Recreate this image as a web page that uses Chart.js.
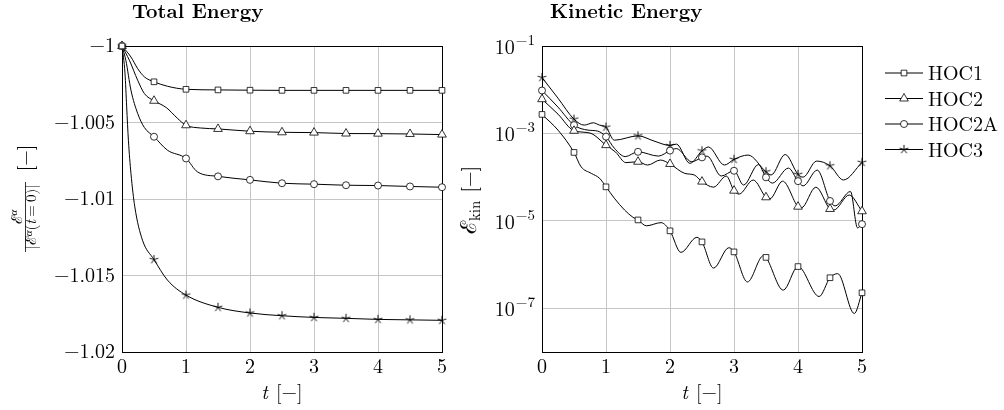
<!DOCTYPE html>
<html>
<head>
<meta charset="utf-8">
<script src="https://cdn.jsdelivr.net/npm/chart.js@4.4.1/dist/chart.umd.min.js"></script>
<style>
  html, body { margin: 0; padding: 0; background: #fff; }
  body { width: 1004px; height: 410px; position: relative; overflow: hidden; }
  canvas { position: absolute; top: 0; }
  #totalChart { left: 0; }
  #kinChart { left: 450px; }
</style>
</head>
<body>
<canvas id="totalChart" width="450" height="410"></canvas>
<canvas id="kinChart" width="554" height="410"></canvas>
<script>
// series
const seriesNames = ['HOC1', 'HOC2', 'HOC2A', 'HOC3'];
const timeTicks = [0, 1, 2, 3, 4, 5];
const energyTicks = [-1.02, -1.015, -1.01, -1.005, -1];
const kinTicks = [1e-7, 1e-5, 1e-3, 1e-1];

// normalised total energy
const hoc1TotalT = [0, 0.14, 0.245, 0.35, 0.5, 0.71, 1, 1.5, 2, 2.5, 3, 3.5, 4, 4.5, 5];
const hoc1Total = [-1, -1.00072, -1.00148, -1.00202, -1.00234, -1.00263, -1.00283, -1.00287, -1.00289, -1.0029, -1.0029, -1.0029, -1.0029, -1.0029, -1.0029];
const hoc2TotalT = [0, 0.115, 0.245, 0.35, 0.5, 0.69, 0.87, 1, 1.23, 1.5, 2, 2.5, 3, 3.5, 4, 4.5, 5];
const hoc2Total = [-1, -1.00093, -1.00224, -1.00311, -1.00358, -1.00402, -1.00474, -1.00518, -1.00536, -1.00542, -1.00557, -1.00564, -1.00566, -1.00572, -1.00573, -1.00575, -1.00579];
const hoc2aTotalT = [0, 0.06, 0.14, 0.245, 0.35, 0.5, 0.71, 1, 1.18, 1.5, 2, 2.5, 3, 3.5, 4, 4.5, 5];
const hoc2aTotal = [-1, -1.00093, -1.00289, -1.00441, -1.00533, -1.00593, -1.00681, -1.00735, -1.00823, -1.00852, -1.00875, -1.00897, -1.00903, -1.0091, -1.00912, -1.00918, -1.00923];
const hoc3TotalT = [0, 0.047, 0.073, 0.1, 0.14, 0.2, 0.32, 0.5, 0.71, 1, 1.5, 2, 2.5, 3, 3.5, 4, 4.5, 5];
const hoc3Total = [-1, -1.0018, -1.00398, -1.00616, -1.00833, -1.01051, -1.01269, -1.01396, -1.0153, -1.01628, -1.01708, -1.01745, -1.01763, -1.01774, -1.0178, -1.01787, -1.0179, -1.01793];

// kinetic energy
const hoc1KinT = [0, 0.25, 0.5, 0.61, 0.77, 0.9, 1, 1.13, 1.29, 1.42, 1.5, 1.63, 1.86, 2, 2.17, 2.42, 2.5, 2.68, 2.92, 3, 3.21, 3.46, 3.5, 3.77, 4, 4.33, 4.5, 4.62, 4.88, 5];
const hoc1Kin = [2.72e-3, 1.19e-3, 3.68e-4, 1.73e-4, 1.22e-4, 9.4e-5, 6.0e-5, 3.3e-5, 1.77e-5, 1.21e-5, 1.05e-5, 7.7e-6, 9.1e-6, 5.9e-6, 1.9e-6, 4.2e-6, 3.3e-6, 8.3e-7, 2.43e-6, 1.95e-6, 4.0e-7, 1.6e-6, 1.46e-6, 2.6e-7, 9.0e-7, 1.86e-7, 5.0e-7, 6.2e-7, 7.6e-8, 2.26e-7];
const hoc2KinT = [0, 0.25, 0.5, 0.75, 1, 1.15, 1.31, 1.5, 1.65, 1.85, 2, 2.23, 2.38, 2.5, 2.68, 2.88, 3, 3.08, 3.3, 3.5, 3.56, 3.76, 4, 4.05, 4.28, 4.5, 4.56, 4.8, 5];
const hoc2Kin = [6.07e-3, 2.76e-3, 1.15e-3, 1.02e-3, 5.4e-4, 3.74e-4, 2.15e-4, 2.25e-4, 1.89e-4, 2.46e-4, 2.0e-4, 1.22e-4, 1.12e-4, 7.9e-5, 5.9e-5, 1.06e-4, 4.9e-5, 4.1e-5, 8.6e-5, 3.46e-5, 3.2e-5, 8.1e-5, 2.11e-5, 1.97e-5, 5.9e-5, 1.87e-5, 1.77e-5, 3.9e-5, 1.66e-5];
const hoc2aKinT = [0, 0.25, 0.5, 0.72, 0.87, 1, 1.13, 1.3, 1.5, 1.82, 2, 2.1, 2.34, 2.5, 2.58, 2.8, 3, 3.15, 3.38, 3.5, 3.6, 3.85, 4, 4.08, 4.3, 4.5, 4.58, 4.82, 4.93, 5];
const hoc2aKin = [9.6e-3, 4.0e-3, 1.55e-3, 1.19e-3, 1.13e-3, 8.45e-4, 4.6e-4, 2.95e-4, 3.8e-4, 3.03e-4, 4.05e-4, 4.5e-4, 2.25e-4, 2.83e-4, 3.03e-4, 1.06e-4, 1.40e-4, 6.6e-5, 1.94e-4, 9.9e-5, 7.3e-5, 1.61e-4, 8.1e-5, 6.3e-5, 1.45e-4, 2.85e-5, 2.2e-5, 4.7e-5, 6.9e-6, 8.4e-6];
const hoc3KinT = [0, 0.25, 0.5, 0.66, 0.8, 0.9, 1, 1.13, 1.5, 1.75, 2, 2.1, 2.31, 2.5, 2.6, 2.85, 3, 3.22, 3.5, 3.58, 3.8, 4, 4.08, 4.29, 4.5, 4.71, 5];
const hoc3Kin = [1.9e-2, 6.4e-3, 2.12e-3, 1.55e-3, 1.75e-3, 1.55e-3, 1.39e-3, 7.0e-4, 8.8e-4, 6.7e-4, 5.3e-4, 5.7e-4, 2.07e-4, 4.0e-4, 4.9e-4, 1.89e-4, 2.55e-4, 3.2e-4, 1.33e-4, 1.12e-4, 3.3e-4, 1.16e-4, 1.0e-4, 2.33e-4, 1.82e-4, 8.6e-5, 2.18e-4];

const GRID = '#c6c6c6';
const FAMILY = '"Latin Modern Roman", "Liberation Serif", "DejaVu Serif", serif';
const F = (size, style = '') => `${style} ${size}px ${FAMILY}`.trim();

// five-armed asterisk mark
function makeStar(r) {
  const s = Math.ceil(r * 2 + 3);
  const c = document.createElement('canvas');
  c.width = s; c.height = s;
  const g = c.getContext('2d');
  g.strokeStyle = '#000';
  g.lineWidth = 0.9;
  g.beginPath();
  for (let k = 0; k < 5; k++) {
    const a = -Math.PI / 2 + k * 2 * Math.PI / 5;
    g.moveTo(s / 2, s / 2);
    g.lineTo(s / 2 + r * Math.cos(a), s / 2 + r * Math.sin(a));
  }
  g.stroke();
  return c;
}

const markStyles = ['rect', 'triangle', 'circle', makeStar(4.6)];
const markSizes = [4, 5, 3.5, 4.6];

// markers only every half time unit
function isMark(t) {
  return t !== undefined && Math.abs(t * 2 - Math.round(t * 2)) < 1e-6;
}

function series(ts, vs, i) {
  return {
    label: seriesNames[i],
    data: ts.map((t, k) => ({ x: t, y: vs[k] })),
    borderColor: '#000',
    borderWidth: 1,
    fill: false,
    cubicInterpolationMode: 'monotone',
    pointStyle: markStyles[i],
    pointRadius: ctx => isMark(ctx.raw && ctx.raw.x) ? markSizes[i] : 0,
    pointHoverRadius: 0,
    pointBorderColor: '#000',
    pointBackgroundColor: '#fff',
    pointBorderWidth: 0.8,
    clip: false
  };
}

// text made of runs with own font and baseline shift
function drawRuns(ctx, runs, x, y, align) {
  let w = 0;
  runs.forEach(r => { ctx.font = r.f; r.w = ctx.measureText(r.t).width; w += r.w + (r.gap || 0); });
  let cx = align === 'center' ? x - w / 2 : align === 'right' ? x - w : x;
  ctx.textAlign = 'left';
  ctx.textBaseline = 'alphabetic';
  runs.forEach(r => {
    ctx.font = r.f;
    ctx.fillText(r.t, cx, y + (r.dy || 0));
    cx += r.w + (r.gap || 0);
  });
}

function drawTitle(ctx, text, x) {
  ctx.fillStyle = '#000';
  drawRuns(ctx, [{ t: text, f: F(20, 'bold') }], x, 17.5, 'left');
}

// box round the plot area
const framePlugin = {
  id: 'frame',
  beforeDatasetsDraw(chart) {
    const { ctx, chartArea: a } = chart;
    ctx.save();
    ctx.strokeStyle = '#000';
    ctx.lineWidth = 1;
    ctx.strokeRect(Math.round(a.left) + 0.5, Math.round(a.top) + 0.5, Math.round(a.right - a.left), Math.round(a.bottom - a.top));
    ctx.restore();
  }
};

const axisX = () => ({
  type: 'linear',
  min: 0,
  max: 5,
  afterBuildTicks: s => { s.ticks = timeTicks.map(v => ({ value: v })); },
  ticks: { color: '#000', font: { family: FAMILY, size: 20 }, padding: 3, maxRotation: 0 },
  grid: { color: GRID, lineWidth: 1, drawTicks: false, tickLength: 0 },
  border: { display: false },
  afterFit: s => { s.height = 58; }
});

const baseOptions = {
  responsive: false,
  animation: false,
  devicePixelRatio: 1,
  events: [],
  plugins: { legend: { display: false }, tooltip: { enabled: false } }
};

// Total Energy
new Chart(document.getElementById('totalChart'), {
  type: 'line',
  data: {
    datasets: [
      series(hoc1TotalT, hoc1Total, 0),
      series(hoc2TotalT, hoc2Total, 1),
      series(hoc2aTotalT, hoc2aTotal, 2),
      series(hoc3TotalT, hoc3Total, 3)
    ]
  },
  options: {
    ...baseOptions,
    layout: { padding: { top: 46, right: 7, left: 0, bottom: 0 } },
    scales: {
      x: axisX(),
      y: {
        type: 'linear',
        min: -1.02,
        max: -1,
        afterBuildTicks: s => { s.ticks = energyTicks.map(v => ({ value: v })); },
        ticks: {
          color: '#000',
          font: { family: FAMILY, size: 20 },
          padding: 7,
          callback: v => String(Math.round(v * 1000) / 1000).replace('-', '\u2212')
        },
        grid: { color: GRID, lineWidth: 1, drawTicks: false, tickLength: 0 },
        border: { display: false },
        afterFit: s => { s.width = 122; }
      }
    }
  },
  plugins: [framePlugin, {
    id: 'totalText',
    afterDraw(chart) {
      const { ctx, chartArea: a } = chart;
      ctx.save();
      ctx.fillStyle = '#000';
      ctx.strokeStyle = '#000';
      drawTitle(ctx, 'Total Energy', a.left + 10);
      drawRuns(ctx, [{ t: 't', f: F(20, 'italic'), gap: 8 }, { t: '[\u2212]', f: F(20) }], (a.left + a.right) / 2, 399, 'center');
      // y label: E^a / |E^a(t=0)| [-]
      ctx.rotate(-Math.PI / 2);
      drawRuns(ctx, [{ t: '\u2130', f: F(15) }, { t: '\u03b1', f: F(11, 'italic'), dy: -5 }], -217, 21.5, 'center');
      ctx.beginPath();
      ctx.lineWidth = 0.8;
      ctx.moveTo(-252, 25.5);
      ctx.lineTo(-182, 25.5);
      ctx.stroke();
      drawRuns(ctx, [
        { t: '|\u2130', f: F(15) },
        { t: '\u03b1', f: F(11, 'italic'), dy: -4 },
        { t: '(', f: F(15) },
        { t: 't', f: F(15, 'italic') },
        { t: '\u2009=\u20090)|', f: F(15) }
      ], -217, 36, 'center');
      drawRuns(ctx, [{ t: '[\u2212]', f: F(20) }], -158, 32, 'center');
      ctx.restore();
    }
  }]
});

// Kinetic Energy
new Chart(document.getElementById('kinChart'), {
  type: 'line',
  data: {
    datasets: [
      series(hoc1KinT, hoc1Kin, 0),
      series(hoc2KinT, hoc2Kin, 1),
      series(hoc2aKinT, hoc2aKin, 2),
      series(hoc3KinT, hoc3Kin, 3)
    ]
  },
  options: {
    ...baseOptions,
    layout: { padding: { top: 46, right: 142, left: 0, bottom: 0 } },
    scales: {
      x: axisX(),
      y: {
        type: 'logarithmic',
        min: 1e-8,
        max: 1e-1,
        afterBuildTicks: s => { s.ticks = kinTicks.map(v => ({ value: v })); },
        ticks: { display: false },
        grid: { color: GRID, lineWidth: 1, drawTicks: false, tickLength: 0 },
        border: { display: false },
        afterFit: s => { s.width = 92; }
      }
    }
  },
  plugins: [framePlugin, {
    id: 'kinText',
    afterDraw(chart) {
      const { ctx, chartArea: a } = chart;
      const ys = chart.scales.y;
      ctx.save();
      ctx.fillStyle = '#000';
      ctx.strokeStyle = '#000';
      drawTitle(ctx, 'Kinetic Energy', a.left + 8);
      drawRuns(ctx, [{ t: 't', f: F(20, 'italic'), gap: 8 }, { t: '[\u2212]', f: F(20) }], (a.left + a.right) / 2, 399, 'center');

      // 10^k tick labels
      kinTicks.forEach(v => {
        const y = ys.getPixelForValue(v);
        const e = Math.round(Math.log10(v));
        drawRuns(ctx, [
          { t: '10', f: F(20), gap: 1 },
          { t: '\u2212' + String(-e), f: F(15), dy: -9 }
        ], a.left - 7, y + 8, 'right');
      });

      // legend
      seriesNames.forEach((name, i) => {
        const y = a.top + 27 + i * 25.5;
        const x0 = a.right + 23, x1 = a.right + 61;
        ctx.lineWidth = 1;
        ctx.beginPath();
        ctx.moveTo(x0, y);
        ctx.lineTo(x1, y);
        ctx.stroke();
        ctx.fillStyle = '#fff';
        ctx.lineWidth = 0.8;
        Chart.helpers.drawPoint(ctx, { pointStyle: markStyles[i], radius: markSizes[i], borderWidth: 0.8, rotation: 0 }, (x0 + x1) / 2, y);
        ctx.fillStyle = '#000';
        drawRuns(ctx, [{ t: name, f: F(20) }], a.right + 66, y + 7, 'left');
      });

      // y label: E_kin [-]
      ctx.rotate(-Math.PI / 2);
      drawRuns(ctx, [
        { t: '\u2130', f: F(22) },
        { t: 'kin', f: F(15), dy: 4, gap: 8 },
        { t: '[\u2212]', f: F(20) }
      ], -200, 26, 'center');
      ctx.restore();
    }
  }]
});
</script>
</body>
</html>
